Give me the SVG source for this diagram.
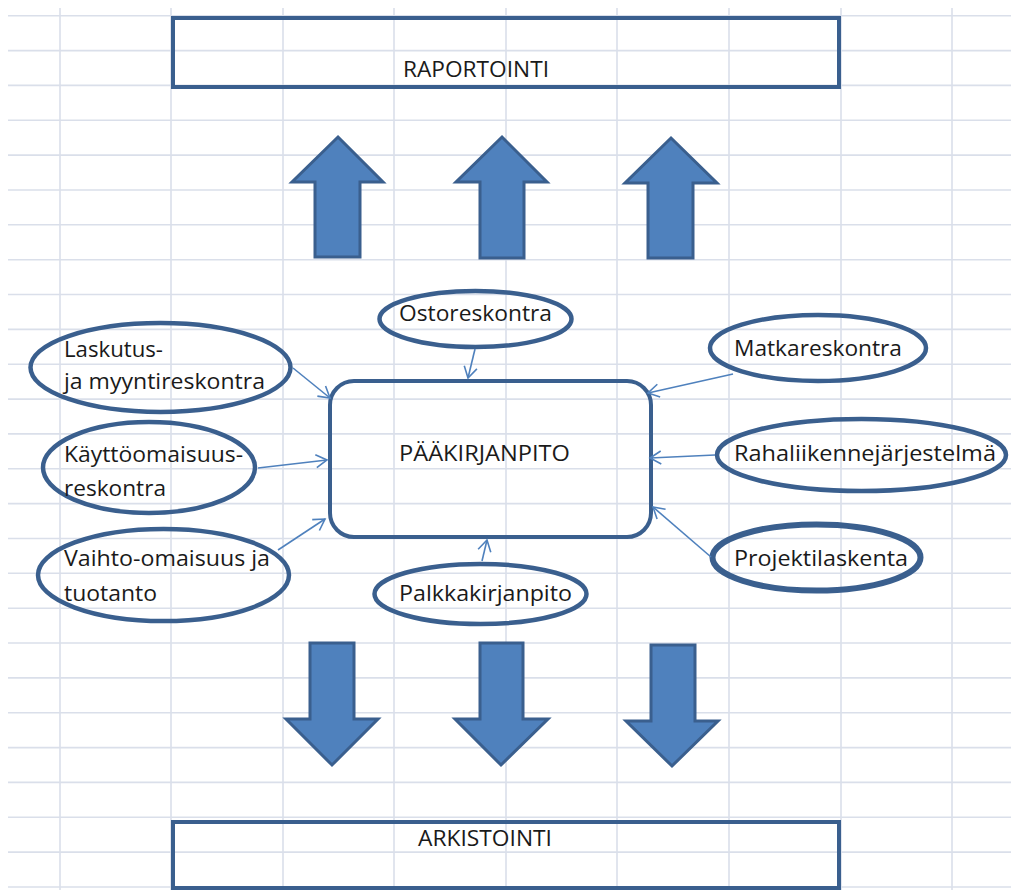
<svg xmlns="http://www.w3.org/2000/svg" width="1011" height="890" viewBox="0 0 1011 890">
<style>
.grid line{stroke:#dadfea;stroke-width:1.6}
.box{fill:none;stroke:#3a5f8e;stroke-width:4}
.ell{fill:none;stroke:#3a5f8e;stroke-width:4.5}
.blk{fill:#4f81bd;stroke:#3a5f8e;stroke-width:3;stroke-linejoin:miter}
.con line{stroke:#4f81bd;stroke-width:1.6;marker-end:url(#arr)}
text{font-family:"Open Sans","Liberation Sans",Arial,sans-serif;font-size:21px;fill:#1a1a1a}
</style>
<defs>
<marker id="arr" markerUnits="userSpaceOnUse" viewBox="-1 -8 14 16" markerWidth="14" markerHeight="16" refX="11" refY="0" orient="auto">
<path d="M0,-6.5 L11,0 L0,6.5" fill="none" stroke="#4f81bd" stroke-width="1.6"/>
</marker>
</defs>
<rect width="1011" height="890" fill="#ffffff"/>
<g class="grid" id="grid">
<line x1="60" y1="8" x2="60" y2="890"/>
<line x1="171" y1="8" x2="171" y2="890"/>
<line x1="283" y1="8" x2="283" y2="890"/>
<line x1="394" y1="8" x2="394" y2="890"/>
<line x1="506" y1="8" x2="506" y2="890"/>
<line x1="617" y1="8" x2="617" y2="890"/>
<line x1="729" y1="8" x2="729" y2="890"/>
<line x1="841" y1="8" x2="841" y2="890"/>
<line x1="952" y1="8" x2="952" y2="890"/>
<line x1="8" y1="15.7" x2="1011" y2="15.7"/>
<line x1="8" y1="50.6" x2="1011" y2="50.6"/>
<line x1="8" y1="85.4" x2="1011" y2="85.4"/>
<line x1="8" y1="120.3" x2="1011" y2="120.3"/>
<line x1="8" y1="155.1" x2="1011" y2="155.1"/>
<line x1="8" y1="190" x2="1011" y2="190"/>
<line x1="8" y1="224.8" x2="1011" y2="224.8"/>
<line x1="8" y1="259.7" x2="1011" y2="259.7"/>
<line x1="8" y1="294.5" x2="1011" y2="294.5"/>
<line x1="8" y1="329.4" x2="1011" y2="329.4"/>
<line x1="8" y1="364.2" x2="1011" y2="364.2"/>
<line x1="8" y1="399.1" x2="1011" y2="399.1"/>
<line x1="8" y1="433.9" x2="1011" y2="433.9"/>
<line x1="8" y1="468.8" x2="1011" y2="468.8"/>
<line x1="8" y1="503.6" x2="1011" y2="503.6"/>
<line x1="8" y1="538.5" x2="1011" y2="538.5"/>
<line x1="8" y1="573.3" x2="1011" y2="573.3"/>
<line x1="8" y1="608.2" x2="1011" y2="608.2"/>
<line x1="8" y1="643" x2="1011" y2="643"/>
<line x1="8" y1="677.9" x2="1011" y2="677.9"/>
<line x1="8" y1="712.7" x2="1011" y2="712.7"/>
<line x1="8" y1="747.6" x2="1011" y2="747.6"/>
<line x1="8" y1="782.4" x2="1011" y2="782.4"/>
<line x1="8" y1="817.3" x2="1011" y2="817.3"/>
<line x1="8" y1="852.1" x2="1011" y2="852.1"/>
<line x1="8" y1="887" x2="1011" y2="887"/>
</g>
<g id="raportointi">
<rect class="box" x="173" y="18" width="666" height="69"/>
<text x="403" y="77" textLength="146" lengthAdjust="spacingAndGlyphs">RAPORTOINTI</text>
</g>
<g id="up-arrows">
<polygon class="blk" points="338,137 383,182 360,182 360,257 315,257 315,182 292,182"/>
<polygon class="blk" points="502,137 547,182 524,182 524,258 480,258 480,182 456,182"/>
<polygon class="blk" points="671,138 717,183 693,183 693,258 648,258 648,183 625,183"/>
</g>
<g id="paakirjanpito">
<rect class="box" x="330" y="381" width="321" height="156" rx="24" ry="24"/>
<text x="399" y="461" textLength="171" lengthAdjust="spacingAndGlyphs">PÄÄKIRJANPITO</text>
</g>
<g id="ostoreskontra">
<ellipse class="ell" cx="475.5" cy="319" rx="96" ry="28"/>
<text x="399" y="321" textLength="153" lengthAdjust="spacingAndGlyphs">Ostoreskontra</text>
</g>
<g id="laskutus">
<ellipse class="ell" cx="160.5" cy="367.5" rx="130" ry="44.5"/>
<text x="64" y="357" textLength="99" lengthAdjust="spacingAndGlyphs">Laskutus-</text>
<text x="64" y="389" textLength="201" lengthAdjust="spacingAndGlyphs">ja myyntireskontra</text>
</g>
<g id="kayttoomaisuus">
<ellipse class="ell" cx="149" cy="467.5" rx="106" ry="45.5"/>
<text x="64" y="462" textLength="179" lengthAdjust="spacingAndGlyphs">Käyttöomaisuus-</text>
<text x="64" y="496" textLength="102" lengthAdjust="spacingAndGlyphs">reskontra</text>
</g>
<g id="vaihto-omaisuus">
<ellipse class="ell" cx="163.5" cy="575" rx="125.5" ry="46"/>
<text x="64" y="566" textLength="206" lengthAdjust="spacingAndGlyphs">Vaihto-omaisuus ja</text>
<text x="64" y="601" textLength="93" lengthAdjust="spacingAndGlyphs">tuotanto</text>
</g>
<g id="palkkakirjanpito">
<ellipse class="ell" cx="480.5" cy="594" rx="106" ry="30"/>
<text x="399" y="601" textLength="173" lengthAdjust="spacingAndGlyphs">Palkkakirjanpito</text>
</g>
<g id="matkareskontra">
<ellipse class="ell" cx="818" cy="348" rx="108" ry="33"/>
<text x="734" y="356" textLength="168" lengthAdjust="spacingAndGlyphs">Matkareskontra</text>
</g>
<g id="rahaliikennejarjestelma">
<ellipse class="ell" cx="861.5" cy="455" rx="144.5" ry="36"/>
<text x="734" y="461" textLength="262" lengthAdjust="spacingAndGlyphs">Rahaliikennejärjestelmä</text>
</g>
<g id="projektilaskenta">
<ellipse class="ell" cx="816.5" cy="557.5" rx="104" ry="33" style="stroke-width:6"/>
<text x="734" y="566" textLength="174" lengthAdjust="spacingAndGlyphs">Projektilaskenta</text>
</g>
<g class="con" id="connectors">
<line x1="475" y1="349" x2="468" y2="378"/>
<line x1="293" y1="368" x2="330" y2="398"/>
<line x1="258" y1="468" x2="327" y2="460"/>
<line x1="278" y1="550" x2="325" y2="519"/>
<line x1="482" y1="561" x2="487" y2="540"/>
<line x1="733" y1="374" x2="648" y2="393"/>
<line x1="715" y1="455" x2="650" y2="458"/>
<line x1="711" y1="557" x2="653" y2="507"/>
</g>
<g id="down-arrows">
<polygon class="blk" points="310,643 354,643 354,719 378,719 332,765 286,719 310,719"/>
<polygon class="blk" points="480,643 523,643 523,719 548,719 501,765 455,719 480,719"/>
<polygon class="blk" points="651,645 695,645 695,721 718,721 672,766 626,721 651,721"/>
</g>
<g id="arkistointi">
<rect class="box" x="173" y="822" width="666" height="66"/>
<text x="418" y="846" textLength="134" lengthAdjust="spacingAndGlyphs">ARKISTOINTI</text>
</g>
</svg>
